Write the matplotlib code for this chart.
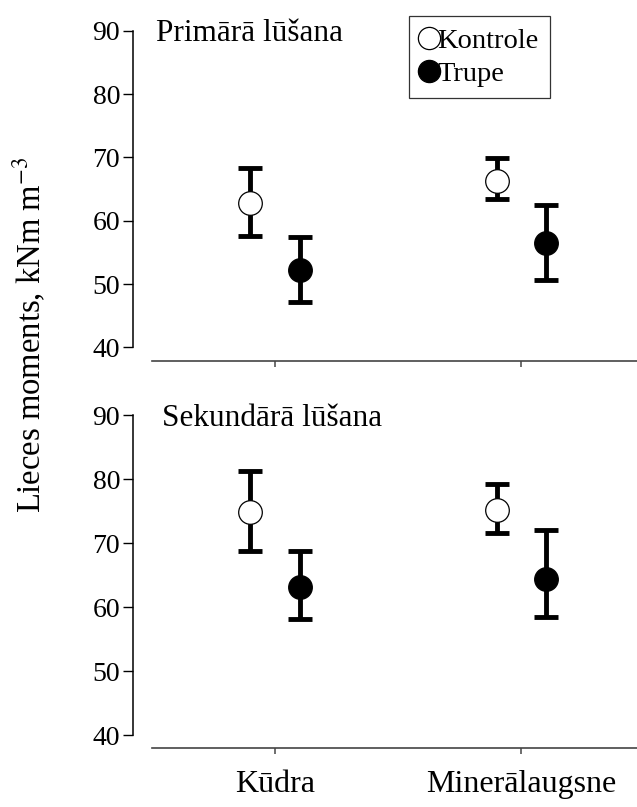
import numpy as np
import matplotlib
matplotlib.use('Agg')
import matplotlib.pyplot as plt
from matplotlib.lines import Line2D

plt.rcParams['font.family'] = ['Liberation Serif', 'DejaVu Serif']
plt.rcParams['mathtext.fontset'] = 'stix'

# data
soils = ['Kūdra', 'Minerālaugsne']
groups = ['Kontrole', 'Trupe']
panel_titles = ['Primārā lūšana', 'Sekundārā lūšana']

# top panel (primary)
prim_kontrole = [62.8, 66.3]
prim_kontrole_lo = [57.6, 63.5]
prim_kontrole_hi = [68.3, 69.9]
prim_trupe = [52.2, 56.4]
prim_trupe_lo = [47.1, 50.6]
prim_trupe_hi = [57.4, 62.5]

# bottom panel (secondary)
sek_kontrole = [74.8, 75.2]
sek_kontrole_lo = [68.8, 71.5]
sek_kontrole_hi = [81.2, 79.3]
sek_trupe = [63.1, 64.4]
sek_trupe_lo = [58.2, 58.5]
sek_trupe_hi = [68.8, 72.0]

yticks = [40, 50, 60, 70, 80, 90]

panels = [
    [(prim_kontrole, prim_kontrole_lo, prim_kontrole_hi),
     (prim_trupe, prim_trupe_lo, prim_trupe_hi)],
    [(sek_kontrole, sek_kontrole_lo, sek_kontrole_hi),
     (sek_trupe, sek_trupe_lo, sek_trupe_hi)],
]

fig = plt.figure(figsize=(6.37, 8.07), dpi=100)
ax_top = fig.add_axes([0.2386, 0.5696, 0.7614, 0.3923])
ax_bot = fig.add_axes([0.2386, 0.0892, 0.7614, 0.3965])
axes = [ax_top, ax_bot]

x = np.arange(len(soils))
offsets = [-0.1, 0.1]
faces = ['white', 'black']
title_x = [0.008, 0.02]

for i, ax in enumerate(axes):
    for j, (mean, lo, hi) in enumerate(panels[i]):
        mean = np.array(mean)
        yerr = [mean - np.array(lo), np.array(hi) - mean]
        ax.errorbar(x + offsets[j], mean, yerr=yerr, fmt='none',
                    ecolor='black', elinewidth=3.5, capsize=8.5, capthick=3.5,
                    zorder=2)
        ax.plot(x + offsets[j], mean, 'o', ms=17, mfc=faces[j], mec='black',
                mew=0.9, zorder=3)

    ax.set_xlim(-0.5, 1.47)
    ax.set_ylim(40, 90)
    ax.set_yticks(yticks)
    ax.set_xticks(x)
    ax.spines['top'].set_visible(False)
    ax.spines['right'].set_visible(False)
    ax.spines['left'].set_position(('outward', 13.5))
    ax.spines['left'].set_bounds(40, 90)
    ax.spines['bottom'].set_position(('outward', 9.5))
    ax.spines['left'].set_linewidth(1.1)
    ax.spines['bottom'].set_linewidth(1.2)
    ax.spines['bottom'].set_color('#444444')
    ax.tick_params(axis='y', direction='out', length=7, width=1.0,
                   labelsize=20, pad=2.5)
    ax.tick_params(axis='x', direction='out', length=4, width=1.2,
                   color='#555555', labelsize=23, pad=11.5)
    ax.text(title_x[i], 0.99, panel_titles[i], transform=ax.transAxes,
            fontsize=22.5, ha='left', va='center')

ax_top.set_xticklabels(['', ''])
ax_bot.set_xticklabels(soils)

# legend only with the markers
handles = [Line2D([], [], ls='none', marker='o', ms=16, mfc=faces[k],
                  mec='black', mew=0.9) for k in range(2)]
leg = ax_top.legend(handles, groups, loc='upper left',
                    bbox_to_anchor=(0.53, 1.046), fontsize=20.5,
                    frameon=True, fancybox=False, edgecolor='black',
                    handlelength=0.6, handletextpad=0.0, borderpad=0.4,
                    labelspacing=0.25, borderaxespad=0)
leg.get_frame().set_linewidth(0.9)

fig.text(0.047, 0.585, 'Lieces moments, kNm m$^{-3}$', rotation=90,
         fontsize=23.5, ha='center', va='center')

fig.savefig('out.png', dpi=100)
